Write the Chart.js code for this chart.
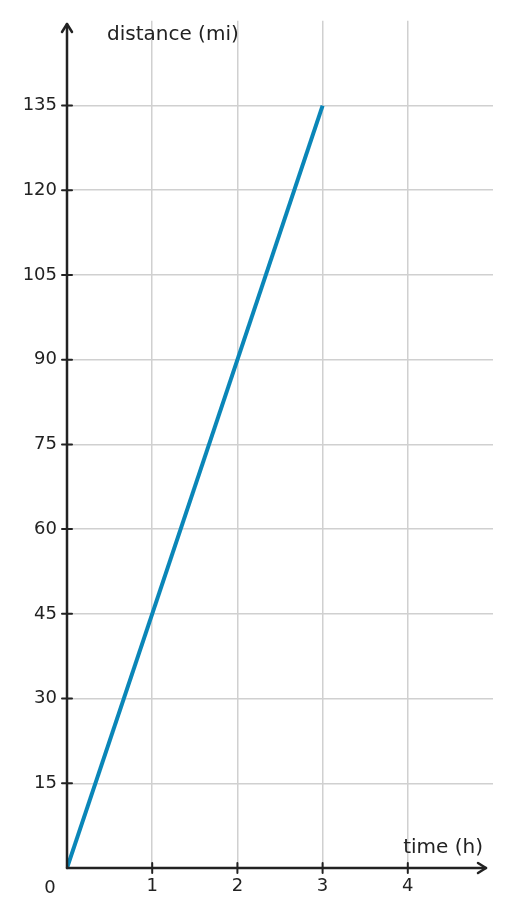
<!DOCTYPE html>
<html><head><meta charset="utf-8">
<script src="https://cdn.jsdelivr.net/npm/chart.js@4"></script>
<style>html,body{margin:0;padding:0;background:#fff}#w{width:510px;height:917px}</style>
</head><body><div id="w"><canvas id="c"></canvas></div>
<script>
const timeH = [0, 3];
const distanceMi = [0, 135];
const xTicks = [1, 2, 3, 4];
const yTicks = [15, 30, 45, 60, 75, 90, 105, 120, 135];
const xTitle = 'time (h)';
const yTitle = 'distance (mi)';
const ink = '#222';
const deco = {
  id: 'deco',
  afterDraw(ch) {
    const c = ch.ctx, x = ch.scales.x, y = ch.scales.y;
    const x0 = x.getPixelForValue(0), y0 = y.getPixelForValue(0);
    c.save();
    c.strokeStyle = ink; c.lineWidth = 2.5; c.lineCap = 'round'; c.lineJoin = 'round';
    c.beginPath(); c.moveTo(x0, y0); c.lineTo(x0, 24); c.stroke();
    c.beginPath(); c.moveTo(x0 - 5, 32); c.lineTo(x0, 24); c.lineTo(x0 + 5, 32); c.stroke();
    c.beginPath(); c.moveTo(x0, y0); c.lineTo(486, y0); c.stroke();
    c.beginPath(); c.moveTo(478, y0 - 5); c.lineTo(486, y0); c.lineTo(478, y0 + 5); c.stroke();
    c.lineWidth = 2;
    yTicks.forEach(v => { const p = y.getPixelForValue(v); c.beginPath(); c.moveTo(x0 - 5, p); c.lineTo(x0 + 5, p); c.stroke(); });
    xTicks.forEach(v => { const p = x.getPixelForValue(v); c.beginPath(); c.moveTo(p, y0 - 5); c.lineTo(p, y0 + 5); c.stroke(); });
    c.fillStyle = ink; c.font = '20px "DejaVu Sans"';
    c.textBaseline = 'middle';
    c.textAlign = 'left'; c.fillText(yTitle, 107, 35);
    c.textAlign = 'right'; c.fillText(xTitle, 483, 848);
    c.font = '18px "DejaVu Sans"'; c.textAlign = 'center';
    c.fillText('0', 50, 888);
    c.restore();
  }
};
new Chart(document.getElementById('c'), {
  type: 'line',
  data: { datasets: [{ data: timeH.map((t, i) => ({ x: t, y: distanceMi[i] })), borderColor: '#0a86b8', borderWidth: 4, pointRadius: 0, tension: 0 }] },
  options: {
    responsive: true, maintainAspectRatio: false, animation: false,
    layout: { padding: { top: 16, right: 17, left: 0, bottom: 0 } },
    plugins: { legend: { display: false }, tooltip: { enabled: false } },
    scales: {
      x: { type: 'linear', min: 0, max: 5,
        afterBuildTicks: a => { a.ticks = xTicks.map(v => ({ value: v })); },
        afterFit: a => { a.height = 49; },
        grid: { color: '#d0d0d0', lineWidth: 1.5, drawTicks: false },
        border: { display: false },
        ticks: { color: ink, font: { family: 'DejaVu Sans', size: 18 }, padding: 8 } },
      y: { type: 'linear', min: 0, max: 150,
        afterBuildTicks: a => { a.ticks = yTicks.map(v => ({ value: v })); },
        afterFit: a => { a.width = 67; },
        grid: { color: '#d0d0d0', lineWidth: 1.5, drawTicks: false },
        border: { display: false },
        ticks: { color: ink, font: { family: 'DejaVu Sans', size: 18 }, padding: 10 } }
    }
  },
  plugins: [deco]
});
</script></body></html>
